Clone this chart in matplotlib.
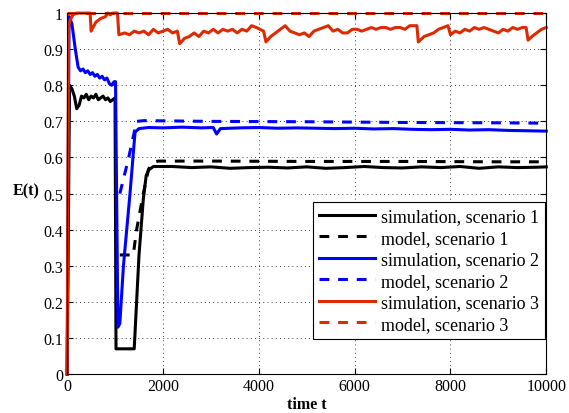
#!/usr/bin/env python3
import numpy as np
import matplotlib
matplotlib.use("Agg")
import matplotlib.pyplot as plt

# %% data

t_sim1 = [0, 50, 100, 150, 200, 250, 300, 350, 400, 450, 500, 550, 600, 650, 700, 750,
          800, 850, 900, 950, 1000, 1020, 1400, 1500, 1590, 1650, 1700, 1800,
          2200, 2600, 3000, 3400, 3800, 4200, 4600, 5000, 5400, 5800, 6200, 6600,
          7000, 7400, 7800, 8200, 8600, 9000, 9400, 9800, 10000]
e_sim1 = [0, 0.80, 0.79, 0.77, 0.735, 0.745, 0.77, 0.765, 0.775, 0.76, 0.77, 0.765, 0.775,
          0.76, 0.765, 0.77, 0.76, 0.765, 0.755, 0.76, 0.765, 0.07, 0.07, 0.33, 0.485,
          0.55, 0.565, 0.575,
          0.575, 0.572, 0.574, 0.570, 0.572, 0.573, 0.571, 0.574, 0.570, 0.572, 0.575,
          0.572, 0.571, 0.574, 0.572, 0.575, 0.570, 0.574, 0.572, 0.573, 0.574]

t_mod1 = [1100, 1380, 1450, 1590, 1700, 1800, 1900, 3000, 5000, 7000, 9000, 10000]
e_mod1 = [0.33, 0.33, 0.40, 0.50, 0.568, 0.586, 0.59, 0.59, 0.589, 0.589, 0.588, 0.588]

t_sim2 = [0, 40, 100, 170, 230, 280, 330, 380, 430, 480, 530, 580, 630, 680, 730, 780,
          830, 880, 930, 980, 1010, 1060, 1100, 1175, 1312, 1417, 1500,
          1700, 2000, 2400, 2800, 3050, 3120, 3200, 3600, 4000, 4400, 4800, 5200, 5600,
          6000, 6400, 6800, 7200, 7600, 8000, 8400, 8800, 9200, 9600, 10000]
e_sim2 = [0, 0.99, 0.97, 0.90, 0.85, 0.84, 0.845, 0.835, 0.84, 0.83, 0.835, 0.825, 0.83,
          0.82, 0.825, 0.815, 0.82, 0.805, 0.80, 0.81, 0.81, 0.13, 0.14, 0.30, 0.50, 0.67,
          0.68,
          0.683, 0.682, 0.684, 0.682, 0.683, 0.665, 0.680, 0.682, 0.683, 0.681, 0.682,
          0.681, 0.680, 0.681, 0.679, 0.680, 0.678, 0.677, 0.678, 0.676, 0.677, 0.675,
          0.674, 0.673]

t_mod2 = [1100, 1277, 1450, 1600, 3000, 5000, 7000, 9000, 10000]
e_mod2 = [0.50, 0.595, 0.70, 0.702, 0.70, 0.699, 0.697, 0.696, 0.695]

t_sim3 = [0, 30, 60, 120, 200, 300, 400, 480, 500, 540, 600, 700, 800, 850, 900, 950,
          1000, 1050, 1080, 1200, 1300, 1400, 1500, 1600, 1700, 1800, 1900, 2000, 2100,
          2200, 2300, 2350, 2450, 2550, 2650, 2750, 2850, 2950, 3050, 3150, 3250, 3350,
          3450, 3550, 3650, 3750, 3850, 3950, 4100, 4150, 4250, 4350, 4450, 4550, 4650,
          4750, 4850, 4950, 5050, 5150, 5250, 5350, 5450, 5550, 5650, 5750, 5850, 5950,
          6050, 6150, 6250, 6350, 6450, 6550, 6650, 6750, 6850, 6950, 7050, 7150, 7300,
          7330, 7450, 7550, 7650, 7750, 7850, 7950, 8000, 8100, 8200, 8300, 8400, 8500,
          8600, 8700, 8800, 8900, 9000, 9100, 9200, 9300, 9400, 9500, 9580, 9620, 9700,
          9800, 9900, 10000]
e_sim3 = [0, 0.96, 0.98, 0.995, 1.0, 1.0, 1.0, 1.0, 0.95, 0.96, 0.975, 0.985, 0.99, 1.0,
          0.995, 1.0, 1.0, 1.0, 0.94, 0.945, 0.94, 0.95, 0.945, 0.95, 0.94, 0.955, 0.945,
          0.95, 0.955, 0.945, 0.95, 0.915, 0.93, 0.935, 0.945, 0.935, 0.95, 0.945, 0.955,
          0.945, 0.955, 0.95, 0.955, 0.945, 0.955, 0.95, 0.965, 0.96, 0.95, 0.92, 0.935,
          0.945, 0.955, 0.965, 0.95, 0.945, 0.94, 0.945, 0.935, 0.95, 0.955, 0.96, 0.965,
          0.95, 0.955, 0.945, 0.945, 0.955, 0.955, 0.95, 0.955, 0.96, 0.955, 0.96, 0.96,
          0.955, 0.96, 0.96, 0.955, 0.965, 0.965, 0.92, 0.935, 0.94, 0.945, 0.955, 0.96,
          0.965, 0.94, 0.95, 0.945, 0.955, 0.95, 0.96, 0.955, 0.96, 0.955, 0.95, 0.945,
          0.955, 0.95, 0.96, 0.955, 0.96, 0.96, 0.925, 0.935, 0.945, 0.955, 0.96]

t_mod3 = [0, 10000]
e_mod3 = [1.0, 1.0]

labels = ["simulation, scenario 1", "model, scenario 1",
          "simulation, scenario 2", "model, scenario 2",
          "simulation, scenario 3", "model, scenario 3"]

# %% plot

plt.rcParams['font.family'] = ['Liberation Serif', 'DejaVu Serif']

fig = plt.figure(figsize=(5.69, 4.14), dpi=100)
ax = fig.add_axes([0.118, 0.094, 0.842, 0.872])

red = '#dd2a00'
dash = (0, (3.2, 2.9))
series = [(t_sim1, e_sim1, 'k', '-'), (t_mod1, e_mod1, 'k', dash),
          (t_sim2, e_sim2, '#0000ff', '-'), (t_mod2, e_mod2, '#0000ff', dash),
          (t_sim3, e_sim3, red, '-'), (t_mod3, e_mod3, red, dash)]
for (t, e, c, ls), lab in zip(series, labels):
    ax.plot(t, e, color=c, linestyle=ls, lw=2.2, label=lab, clip_on=False)

ax.set_xlim(0, 10000)
ax.set_ylim(0, 1)
ax.set_xticks(np.arange(0, 10001, 2000))
ax.set_yticks(np.arange(0, 1.01, 0.1))
ax.set_yticklabels(['0', '0.1', '0.2', '0.3', '0.4', '0.5', '0.6', '0.7', '0.8', '0.9', '1'])
ax.tick_params(direction='in', top=True, right=True, length=4, labelsize=11.5, pad=3)
ax.grid(True, color='k', linestyle=(0, (1, 4)), lw=0.6)

ax.set_xlabel('time t', fontweight='bold', fontsize=11.5, labelpad=1)
ax.set_ylabel('E(t)', fontweight='bold', fontsize=11.5, rotation=0, va='center', ha='center')
ax.yaxis.set_label_coords(-0.086, 0.51)

leg = ax.legend(loc='lower right', bbox_to_anchor=(0.998, 0.097), borderaxespad=0,
                fontsize=13, handlelength=3.1, handletextpad=0.3, labelspacing=0.25,
                fancybox=False, edgecolor='k', framealpha=1, borderpad=0.35)
leg.get_frame().set_linewidth(0.8)

plt.savefig('out.png', dpi=100)
